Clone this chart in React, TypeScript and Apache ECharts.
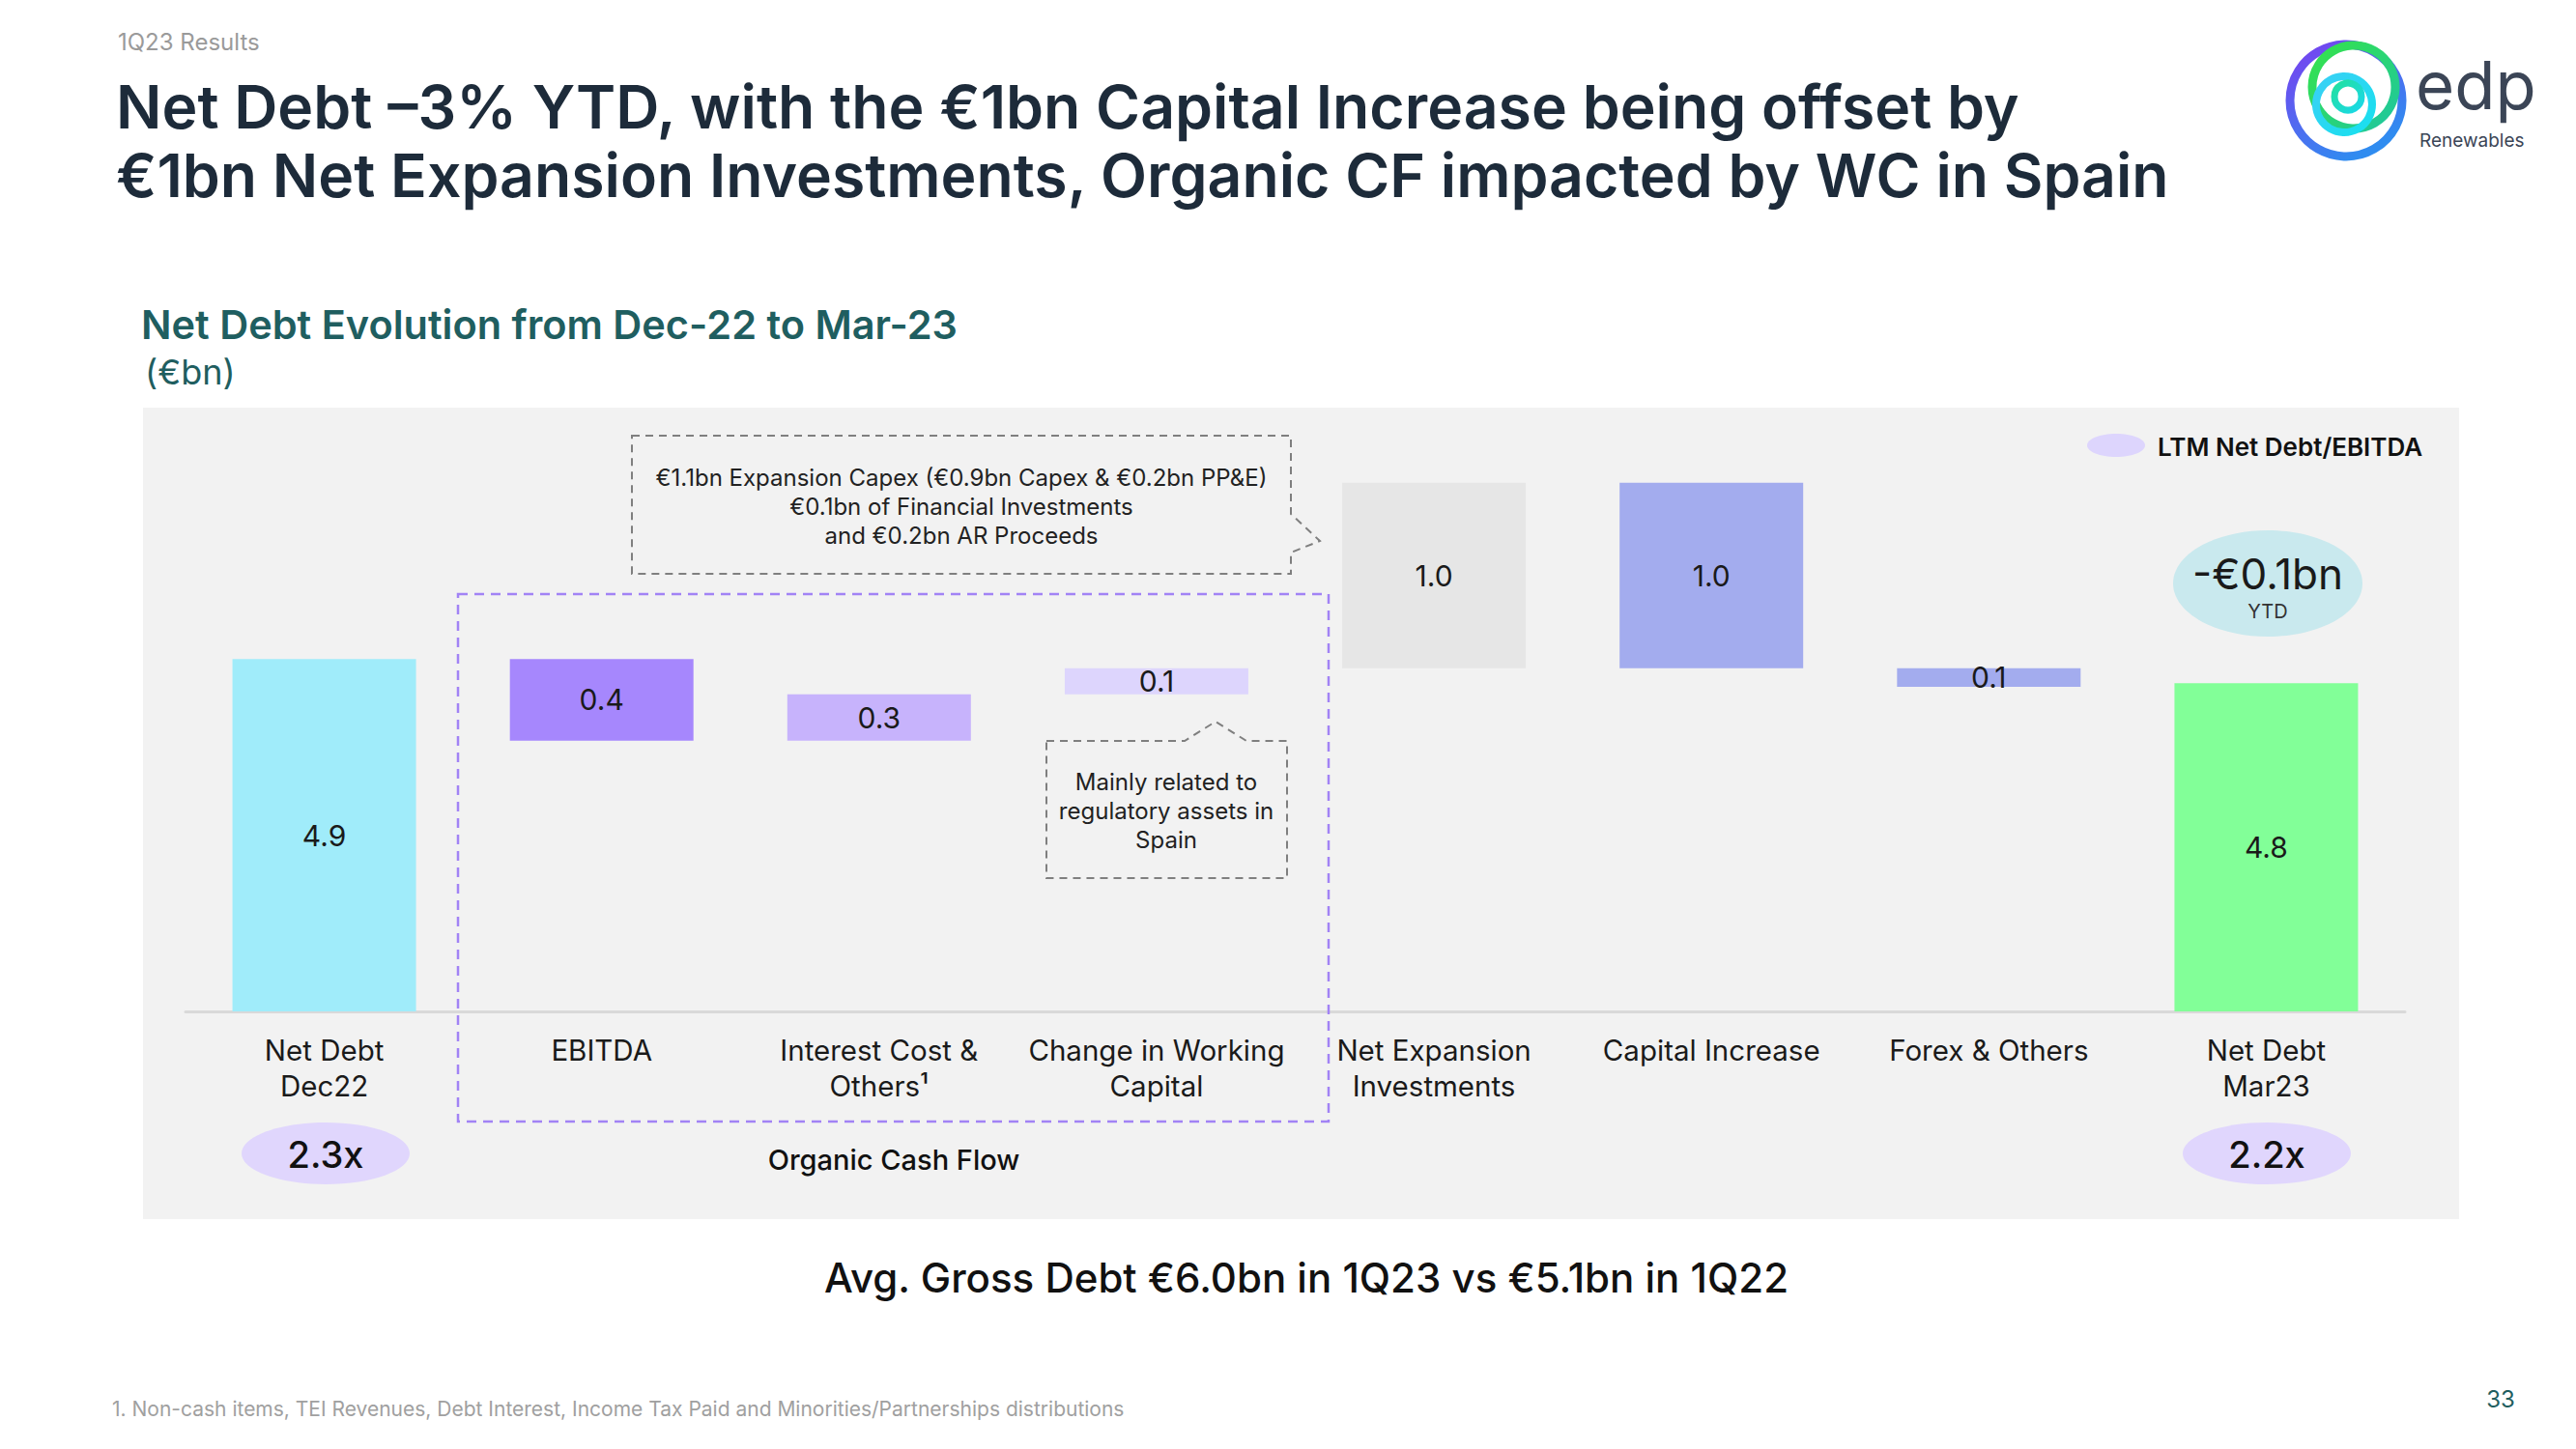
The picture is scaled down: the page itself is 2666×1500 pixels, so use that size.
import React, { useEffect, useRef } from "react";
import * as echarts from "echarts";

const categories = [
  "Net Debt\nDec22",
  "EBITDA",
  "Interest Cost &\nOthers¹",
  "Change in Working\nCapital",
  "Net Expansion\nInvestments",
  "Capital Increase",
  "Forex & Others",
  "Net Debt\nMar23",
];
// totals are levels, the rest are changes (bn €)
const values = [4.9, -0.44, 0.25, 0.14, 1.0, -1.0, -0.1, 4.77];
const isTotal = [true, false, false, false, false, false, false, true];
const barColors = ["#a0ecfa", "#a687fd", "#c7b3fc", "#ddd5fd", "#e6e6e6", "#a3acee", "#a3acee", "#82ff98"];
const ratioLabels = ["2.3x", "2.2x"];
const ytdLabel = "-€0.1bn";

const FONT = "Inter, 'Noto Sans', sans-serif";

export default function App() {
  const ref = useRef<HTMLDivElement>(null);
  useEffect(() => {
    if (!ref.current) return;
    const chart = echarts.init(ref.current, undefined, { renderer: "svg" });

    const helper: number[] = [];
    const visible: number[] = [];
    let level = 0;
    values.forEach((v, i) => {
      if (isTotal[i]) {
        helper.push(0);
        visible.push(v);
        level = v;
      } else {
        const next = level + v;
        helper.push(Math.min(level, next));
        visible.push(Math.abs(v));
        level = next;
      }
    });

    const txt = (text: string, x: number, y: number, size: number, color: string, weight: any = 400, align = "left", extra: any = {}) => ({
      type: "text",
      x,
      y,
      z: 10,
      style: {
        text,
        fill: color,
        fontSize: size,
        fontFamily: FONT,
        fontWeight: weight,
        align,
        verticalAlign: "middle",
        ...extra,
      },
    });

    const dashGray = { fill: "none", stroke: "#7f7f7f", lineWidth: 2, lineDash: [8, 6] };

    const graphic: any[] = [
      { type: "rect", z: -10, shape: { x: 148, y: 422, width: 2397, height: 840 }, style: { fill: "#f2f2f2" } },
      txt("1Q23 Results", 122, 43, 24, "#9a9a9a"),
      txt("Net Debt –3% YTD, with the €1bn Capital Increase being offset by", 120, 110, 62.5, "#1d2b3a", 600),
      txt("€1bn Net Expansion Investments, Organic CF impacted by WC in Spain", 120, 181, 62.5, "#1d2b3a", 600),
      txt("Net Debt Evolution from Dec-22 to Mar-23", 146, 336, 41.5, "#1f5e60", 600),
      txt("(€bn)", 150, 385, 36, "#1f5e60", 400),
      // logo
      {
        type: "circle", z: 10, shape: { cx: 2428, cy: 104, r: 58 },
        style: { fill: "none", lineWidth: 9, stroke: new echarts.graphic.LinearGradient(0, 0, 0.6, 1, [{ offset: 0, color: "#7a3ff0" }, { offset: 1, color: "#2f8cf0" }]) },
      },
      {
        type: "circle", z: 11, shape: { cx: 2436, cy: 90, r: 43 },
        style: { fill: "none", lineWidth: 9, stroke: new echarts.graphic.LinearGradient(0, 0, 1, 1, [{ offset: 0, color: "#35e34a" }, { offset: 1, color: "#1fc6a0" }]) },
      },
      {
        type: "circle", z: 12, shape: { cx: 2426, cy: 108, r: 29 },
        style: { fill: "none", lineWidth: 8, stroke: new echarts.graphic.LinearGradient(0, 0, 1, 1, [{ offset: 0, color: "#3ad0f5" }, { offset: 1, color: "#18e0ee" }]) },
      },
      {
        type: "circle", z: 13, shape: { cx: 2430, cy: 100, r: 14 },
        style: { fill: "none", lineWidth: 7, stroke: new echarts.graphic.LinearGradient(0, 0, 1, 1, [{ offset: 0, color: "#22e0a0" }, { offset: 1, color: "#1ad8e8" }]) },
      },
      txt("edp", 2500, 88, 69, "#3b4556", 400),
      txt("Renewables", 2504, 145, 19, "#3b4556", 400),
      // legend
      { type: "ellipse", z: 10, shape: { cx: 2190, cy: 461, rx: 30, ry: 12 }, style: { fill: "#ddd5fd" } },
      txt("LTM Net Debt/EBITDA", 2233, 462, 26, "#111111", 600),
      // callout 1
      {
        type: "polygon", z: 10,
        shape: { points: [[654, 451], [1336, 451], [1336, 532], [1366, 560], [1336, 572], [1336, 594], [654, 594]] },
        style: dashGray,
      },
      txt("€1.1bn Expansion Capex (€0.9bn Capex & €0.2bn PP&E)", 995, 494, 24, "#222222", 400, "center"),
      txt("€0.1bn of Financial Investments", 995, 524, 24, "#222222", 400, "center"),
      txt("and €0.2bn AR Proceeds", 995, 554, 24, "#222222", 400, "center"),
      // callout 2
      {
        type: "polygon", z: 10,
        shape: { points: [[1083, 767], [1226, 767], [1258, 747], [1290, 767], [1332, 767], [1332, 909], [1083, 909]] },
        style: dashGray,
      },
      txt("Mainly related to", 1207, 809, 24, "#222222", 400, "center"),
      txt("regulatory assets in", 1207, 839, 24, "#222222", 400, "center"),
      txt("Spain", 1207, 869, 24, "#222222", 400, "center"),
      // organic cash flow box
      { type: "rect", z: 10, shape: { x: 474, y: 615, width: 901, height: 546 }, style: { fill: "none", stroke: "#a283f5", lineWidth: 2.5, lineDash: [10, 7] } },
      txt("Organic Cash Flow", 925, 1200, 29, "#111111", 500, "center"),
      // ratio ellipses
      { type: "ellipse", z: 10, shape: { cx: 337, cy: 1194, rx: 87, ry: 32 }, style: { fill: "#e0d6fd" } },
      txt(ratioLabels[0], 337, 1195, 38, "#111111", 500, "center"),
      { type: "ellipse", z: 10, shape: { cx: 2346, cy: 1194, rx: 87, ry: 32 }, style: { fill: "#e0d6fd" } },
      txt(ratioLabels[1], 2346, 1195, 38, "#111111", 500, "center"),
      // YTD bubble
      { type: "ellipse", z: 10, shape: { cx: 2347, cy: 604, rx: 98, ry: 55 }, style: { fill: "#c9e9ee" } },
      txt(ytdLabel, 2347, 594, 44, "#1a1a1a", 400, "center"),
      txt("YTD", 2347, 633, 20, "#333333", 400, "center"),
      // bottom
      txt("Avg. Gross Debt €6.0bn in 1Q23 vs €5.1bn in 1Q22", 1352, 1322, 42, "#111111", 500, "center"),
      txt("1. Non-cash items, TEI Revenues, Debt Interest, Income Tax Paid and Minorities/Partnerships distributions", 116, 1458, 21, "#a0a0a0", 400),
      txt("33", 2588, 1448, 24, "#1f5e60", 400, "center"),
    ];

    chart.setOption({
      animation: false,
      backgroundColor: "#ffffff",
      graphic,
      grid: { left: 192, width: 2297, top: 471, height: 576, containLabel: false },
      xAxis: {
        type: "category",
        data: categories,
        axisLine: { lineStyle: { color: "#d9d9d9", width: 3 } },
        axisTick: { show: false },
        axisLabel: { color: "#1a1a1a", fontSize: 29.5, fontFamily: FONT, lineHeight: 37, margin: 21, interval: 0 },
      },
      yAxis: { type: "value", min: 3, max: 6, show: false, splitLine: { show: false } },
      series: [
        {
          type: "bar",
          stack: "w",
          data: helper,
          barWidth: 190,
          itemStyle: { color: "transparent" },
          emphasis: { disabled: true },
          silent: true,
        },
        {
          type: "bar",
          stack: "w",
          barWidth: 190,
          data: visible.map((v, i) => ({ value: v, itemStyle: { color: barColors[i] } })),
          label: {
            show: true,
            position: "inside",
            color: "#1a1a1a",
            fontSize: 30,
            fontFamily: FONT,
            formatter: (p: any) => Math.abs(values[p.dataIndex]).toFixed(1),
          },
          emphasis: { disabled: true },
          silent: true,
        },
      ],
    });
    return () => chart.dispose();
  }, []);
  return <div ref={ref} style={{ position: "absolute", left: 0, top: 0, width: 2666, height: 1500, background: "#fff" }} />;
}
